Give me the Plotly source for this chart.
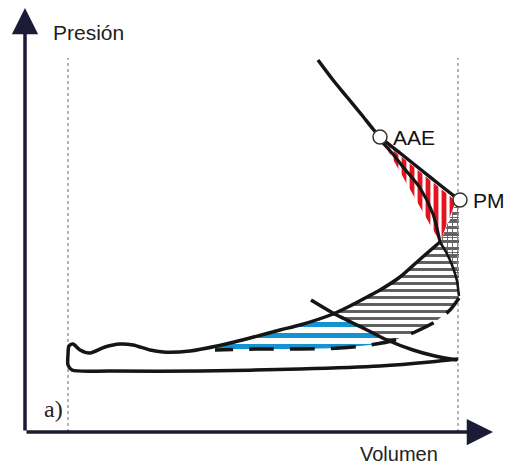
import plotly.graph_objects as go

# Indicator diagram (pressure vs volume), arbitrary units: V to the right, P upward,
# origin at the intersection of the two axes.

# Expansion stroke: from the top of the curve through AAE to PM
exp_v = [293, 308, 322, 336, 348, 355, 375, 395, 415, 433]
exp_p = [372, 352, 335, 318, 303, 295, 279, 263, 247, 233]

# Real expansion after exhaust valve opening (AAE -> bottom of the red area)
aae_v = [355, 367, 378, 395, 408, 415]
aae_p = [292, 279, 265, 244, 218, 190]

# Compression curve, intake line and lower exhaust line (one closed stroke path)
cmp_v = [415, 408, 392, 375, 355, 342, 325, 308, 275, 255, 225, 192, 165, 138, 125,
         108, 95, 80, 65, 55, 48, 44, 43, 43, 47, 85, 175, 275, 355, 405, 433]
cmp_p = [190, 184, 170, 155, 142, 135, 126, 118, 107, 102, 94, 86, 81, 80, 82,
         87, 88, 85, 79, 82, 88, 86, 77, 67, 62, 61, 61, 63, 66, 70, 73]

# Theoretical exhaust line crossing the compression curve
crs_v = [286, 308, 342, 362, 388, 410, 432]
crs_p = [132, 119, 102, 92, 82, 76, 72]

# Real exhaust: solid upper part and dashed lower part
exs_v = [415, 421, 427, 432, 434]
exs_p = [190, 180, 167, 151, 136]
exd_v = [434, 425, 410, 390, 370, 345, 315, 275, 235, 190]
exd_p = [134, 122, 110, 100, 92, 87, 84, 83, 83, 82]

# Hatched areas
red_v = [358, 431, 415, 358]
red_p = [290, 231, 190, 290]
gray_v = [433, 415, 408, 392, 375, 355, 342, 325, 308, 342, 362, 370, 390, 410, 425, 434, 434]
gray_p = [230, 190, 184, 170, 155, 142, 135, 126, 118, 102, 92, 92, 100, 110, 122, 134, 230]
chk_v = [431, 415, 421, 427, 432, 434, 434]
chk_p = [229, 190, 180, 167, 151, 136, 229]
blue_v = [308, 275, 255, 225, 192, 190, 235, 275, 315, 345, 360, 342, 308]
blue_p = [118, 107, 102, 94, 86, 82, 83, 83, 84, 87, 91, 102, 118]

# Dead-centre reference volumes and marked points
dead_v = [43, 433]
dead_top = 374
pts_v = [355, 435]
pts_p = [295, 232]
pts_lbl = ["AAE", "PM"]

INK = "#151515"
AXIS = "#1b1b35"

fig = go.Figure()

def hatch(v, p, shape, color, size, solidity):
    fig.add_trace(go.Scatter(
        x=v, y=p, mode="lines", fill="toself", line=dict(width=0),
        fillcolor="rgba(0,0,0,0)",
        fillpattern=dict(shape=shape, fgcolor=color, fgopacity=1,
                         bgcolor="rgba(0,0,0,0)", size=size, solidity=solidity),
        hoverinfo="skip"))

hatch(gray_v, gray_p, "-", "#5e5e5e", 7, 0.42)
hatch(chk_v, chk_p, "+", "#666666", 5, 0.35)
hatch(blue_v, blue_p, "-", "#1592d2", 11, 0.45)
hatch(red_v, red_p, "|", "#e3141f", 8, 0.6)

# Dotted dead-centre verticals
for v in dead_v:
    fig.add_trace(go.Scatter(x=[v, v], y=[0, dead_top], mode="lines",
                             line=dict(color="#9a9a9a", width=1.5, dash="dot"),
                             hoverinfo="skip"))

def stroke(v, p, width=3.5, dash=None, shape="spline", smoothing=0.8):
    fig.add_trace(go.Scatter(x=v, y=p, mode="lines",
                             line=dict(color=INK, width=width, dash=dash,
                                       shape=shape, smoothing=smoothing),
                             hoverinfo="skip"))

stroke(exd_v, exd_p, 3.5,
       dash="20px,16px,25px,16px,25px,16px,25px,16px,25px,16px,25px,16px,25px,16px")
stroke(exs_v, exs_p, 2.5, smoothing=0.4)
stroke(crs_v, crs_p, 3.5)
stroke(cmp_v, cmp_p, 3.5)
stroke(aae_v, aae_p, 3.2)
stroke(exp_v, exp_p, 3.5)

fig.add_trace(go.Scatter(x=pts_v, y=pts_p, mode="markers",
                         marker=dict(size=14, color="white",
                                     line=dict(color="#333", width=1.5)),
                         hoverinfo="skip"))

annotations = []
# Axes with arrowheads
annotations.append(dict(x=0, y=424, ax=0, ay=0, xref="x", yref="y", axref="x", ayref="y",
                        text="", showarrow=True, arrowhead=2, arrowsize=1.5,
                        arrowwidth=3.5, arrowcolor=AXIS))
annotations.append(dict(x=468, y=0, ax=0, ay=0, xref="x", yref="y", axref="x", ayref="y",
                        text="", showarrow=True, arrowhead=2, arrowsize=1.5,
                        arrowwidth=3.5, arrowcolor=AXIS))

FONT = "Liberation Sans, Arial, sans-serif"
annotations.append(dict(x=26, y=400, text="Presión", showarrow=False, xanchor="left",
                        yanchor="middle", font=dict(family=FONT, size=21, color="#222")))
annotations.append(dict(x=374, y=-22, text="Volumen", showarrow=False, xanchor="center",
                        yanchor="middle", font=dict(family=FONT, size=20, color="#222")))
annotations.append(dict(x=28, y=23, text="a)", showarrow=False, xanchor="center",
                        yanchor="middle",
                        font=dict(family="Liberation Serif, Times New Roman, serif",
                                  size=24, color="#222")))
for v, p, t in zip(pts_v, pts_p, pts_lbl):
    annotations.append(dict(x=v + 11, y=p, text=t, showarrow=False, xanchor="left",
                            yanchor="middle", font=dict(family=FONT, size=21, color="#111")))

fig.update_layout(
    width=512, height=466, margin=dict(l=0, r=0, t=0, b=0),
    paper_bgcolor="white", plot_bgcolor="white", showlegend=False,
    xaxis=dict(range=[-25, 487], visible=False, fixedrange=True),
    yaxis=dict(range=[-34, 432], visible=False, fixedrange=True),
    annotations=annotations,
)

fig.write_html("out.html")
